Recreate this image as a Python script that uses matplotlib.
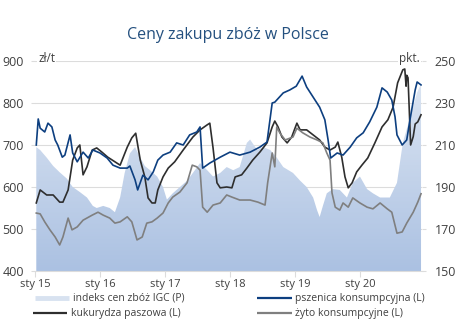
import numpy as np
import matplotlib
matplotlib.use("Agg")
import matplotlib.pyplot as plt
from matplotlib.lines import Line2D
from matplotlib.patches import Polygon

plt.rcParams['font.family'] = ['Open Sans', 'DejaVu Sans']

# pszenica konsumpcyjna, zl/t
wheat_t = [2015.02, 2015.05, 2015.08, 2015.15, 2015.20, 2015.26, 2015.31, 2015.35, 2015.42, 2015.46,
           2015.54, 2015.58, 2015.65, 2015.74, 2015.82, 2015.89, 2016.00, 2016.11, 2016.20, 2016.31,
           2016.42, 2016.46, 2016.54, 2016.58, 2016.66, 2016.74, 2016.82, 2016.89, 2016.97, 2017.08,
           2017.18, 2017.28, 2017.38, 2017.49, 2017.54, 2017.58, 2017.69, 2017.85, 2018.00, 2018.15,
           2018.31, 2018.46, 2018.57, 2018.65, 2018.69, 2018.82, 2018.92, 2019.02, 2019.11, 2019.18,
           2019.28, 2019.38, 2019.46, 2019.51, 2019.55, 2019.65, 2019.74, 2019.85, 2019.95, 2020.05,
           2020.15, 2020.26, 2020.34, 2020.42, 2020.49, 2020.54, 2020.57, 2020.65, 2020.72, 2020.77,
           2020.85, 2020.88, 2020.94]
wheat = [700, 762, 740, 731, 752, 743, 712, 700, 671, 676,
         724, 681, 660, 683, 669, 688, 681, 669, 652, 645,
         645, 650, 617, 593, 628, 617, 636, 664, 676, 683,
         705, 700, 724, 731, 743, 645, 657, 671, 683, 676,
         683, 695, 707, 800, 802, 824, 831, 840, 864, 838,
         814, 790, 760, 712, 669, 681, 676, 695, 717, 729,
         755, 790, 836, 826, 807, 767, 724, 700, 712, 760,
         831, 850, 843]

# kukurydza paszowa, zl/t
maize_t = [2015.02, 2015.08, 2015.18, 2015.28, 2015.38, 2015.43, 2015.51, 2015.58, 2015.65, 2015.69,
           2015.74, 2015.80, 2015.88, 2015.95, 2016.03, 2016.12, 2016.23, 2016.31, 2016.42, 2016.49,
           2016.55, 2016.62, 2016.69, 2016.74, 2016.80, 2016.85, 2016.89, 2016.97, 2017.05, 2017.15,
           2017.28, 2017.43, 2017.54, 2017.65, 2017.69, 2017.74, 2017.80, 2017.85, 2017.95, 2018.03,
           2018.08, 2018.18, 2018.26, 2018.35, 2018.46, 2018.57, 2018.65, 2018.69, 2018.74, 2018.80,
           2018.88, 2018.95, 2019.03, 2019.08, 2019.18, 2019.28, 2019.38, 2019.46, 2019.54, 2019.62,
           2019.66, 2019.72, 2019.77, 2019.82, 2019.88, 2019.95, 2020.03, 2020.12, 2020.23, 2020.34,
           2020.43, 2020.51, 2020.58, 2020.66, 2020.69, 2020.71, 2020.72, 2020.74, 2020.77, 2020.78,
           2020.82, 2020.85, 2020.89, 2020.94]
maize = [562, 593, 581, 581, 564, 564, 593, 664, 693, 700,
         629, 648, 688, 693, 683, 671, 660, 652, 695, 717,
         728, 664, 624, 574, 562, 562, 593, 624, 645, 660,
         688, 719, 736, 748, 752, 693, 610, 598, 600, 598,
         624, 629, 645, 664, 683, 705, 743, 757, 743, 719,
         705, 719, 752, 736, 736, 724, 712, 695, 688, 695,
         707, 671, 624, 598, 610, 636, 652, 669, 705, 743,
         760, 790, 848, 879, 881, 840, 866, 860, 740, 700,
         720, 750, 755, 772]

# zyto konsumpcyjne, zl/t
rye_t = [2015.02, 2015.08, 2015.15, 2015.23, 2015.31, 2015.38, 2015.43, 2015.51, 2015.57, 2015.65,
         2015.74, 2015.88, 2015.97, 2016.05, 2016.15, 2016.23, 2016.31, 2016.42, 2016.49, 2016.57,
         2016.65, 2016.72, 2016.80, 2016.88, 2016.97, 2017.05, 2017.12, 2017.23, 2017.34, 2017.42,
         2017.49, 2017.54, 2017.58, 2017.65, 2017.74, 2017.85, 2017.95, 2018.03, 2018.15, 2018.31,
         2018.43, 2018.54, 2018.58, 2018.65, 2018.69, 2018.72, 2018.77, 2018.85, 2018.97, 2019.03,
         2019.12, 2019.23, 2019.34, 2019.43, 2019.49, 2019.54, 2019.57, 2019.62, 2019.69, 2019.74,
         2019.82, 2019.89, 2020.00, 2020.11, 2020.20, 2020.31, 2020.42, 2020.49, 2020.57, 2020.65,
         2020.72, 2020.82, 2020.89, 2020.94]
rye = [538, 536, 517, 498, 481, 462, 481, 526, 498, 505,
       521, 533, 540, 533, 526, 514, 517, 529, 517, 474,
       481, 514, 517, 526, 538, 562, 576, 588, 610, 652,
       648, 640, 552, 540, 557, 562, 581, 576, 569, 569,
       564, 557, 610, 681, 648, 743, 728, 712, 719, 740,
       729, 719, 712, 705, 681, 664, 586, 552, 545, 562,
       552, 574, 562, 552, 548, 562, 548, 540, 490, 493,
       514, 540, 564, 584]

# indeks cen zboz IGC, pkt.
igc_t = [2015.02, 2015.08, 2015.18, 2015.28, 2015.38, 2015.49, 2015.58, 2015.69, 2015.80, 2015.89,
         2015.95, 2016.05, 2016.15, 2016.23, 2016.31, 2016.38, 2016.46, 2016.54, 2016.62, 2016.69,
         2016.77, 2016.88, 2016.97, 2017.03, 2017.12, 2017.23, 2017.34, 2017.43, 2017.54, 2017.65,
         2017.74, 2017.85, 2017.95, 2018.05, 2018.15, 2018.26, 2018.31, 2018.42, 2018.51, 2018.62,
         2018.72, 2018.82, 2018.97, 2019.08, 2019.18, 2019.28, 2019.34, 2019.38, 2019.43, 2019.49,
         2019.58, 2019.69, 2019.80, 2019.89, 2020.00, 2020.11, 2020.20, 2020.31, 2020.42, 2020.46,
         2020.57, 2020.66, 2020.77, 2020.88, 2020.94]
igc = [209, 207.6, 204, 200, 197, 194, 190, 187.6, 185, 181,
       180, 181, 180, 178, 185, 196.7, 206, 209, 204, 200,
       198, 195, 190, 184, 187, 190, 193, 196.7, 201.4, 198,
       195, 196.7, 199.5, 198, 199.5, 211, 212.6, 207.6, 209, 207.6,
       204, 199.5, 196.7, 193, 190, 185, 179, 175.7, 181, 187,
       189, 188.6, 185, 192, 195, 189, 187, 185, 185, 185,
       192, 211, 223, 235, 239]

years = [2015, 2016, 2017, 2018, 2019, 2020]
year_labels = ['sty 15', 'sty 16', 'sty 17', 'sty 18', 'sty 19', 'sty 20']
left_ticks = [400, 500, 600, 700, 800, 900]
right_ticks = [150, 170, 190, 210, 230, 250]

txt = '#404040'
grid_c = '#dcdcdc'

fig = plt.figure(figsize=(4.74, 3.32), dpi=100)
ax = fig.add_axes([0.0738, 0.1837, 0.8165, 0.6326])
ax2 = ax.twinx()
ax.set_zorder(ax2.get_zorder() + 1)
ax.patch.set_visible(False)

xmin, xmax = 2015.0, 2020.955
ax.set_xlim(xmin, xmax)
ax.set_ylim(400, 900)
ax2.set_ylim(150, 250)

# gridlines sit under the IGC area
for v in right_ticks[1:]:
    ax2.axhline(v, color=grid_c, lw=0.8, zorder=0)

# IGC area with a vertical gradient fill
grad = np.linspace(0, 1, 256).reshape(-1, 1)
cmap = matplotlib.colors.LinearSegmentedColormap.from_list(
    'igc', ['#e1e9f4', '#abc1e2'])
img = ax2.imshow(grad, cmap=cmap, aspect='auto', origin='upper',
                 extent=[xmin, xmax, 150, 250], zorder=1, vmin=0, vmax=1)
verts = [(igc_t[0], 150)] + list(zip(igc_t, igc)) + [(igc_t[-1], 150)]
clip = Polygon(verts, closed=True, transform=ax2.transData, facecolor='none', edgecolor='none')
ax2.add_patch(clip)
img.set_clip_path(clip)
ax2.set_xlim(xmin, xmax)

ax.plot(maize_t, maize, color='#2e2e2e', lw=1.2)
ax.plot(rye_t, rye, color='#7f7f7f', lw=1.2)
ax.plot(wheat_t, wheat, color='#0d3f80', lw=1.2)

for a in (ax, ax2):
    for s in a.spines.values():
        s.set_visible(False)
ax.spines['bottom'].set_visible(True)
ax.spines['bottom'].set_color(grid_c)

ax.set_xticks(years)
ax.set_xticklabels(year_labels)
ax.set_yticks(left_ticks)
ax2.set_yticks(right_ticks)
ax.tick_params(axis='x', colors=grid_c, labelcolor=txt, labelsize=8, length=4, pad=2)
ax.tick_params(axis='y', colors=grid_c, labelcolor=txt, labelsize=9, length=3, pad=5)
ax2.tick_params(axis='y', colors=grid_c, labelcolor=txt, labelsize=9, length=3, pad=6)

ax.text(0.008, 1.01, 'zł/t', transform=ax.transAxes, fontsize=8.5, color=txt,
        ha='left', va='center', bbox=dict(facecolor='white', edgecolor='none', pad=1))
ax.text(0.995, 1.01, 'pkt.', transform=ax.transAxes, fontsize=8.5, color=txt,
        ha='right', va='center', bbox=dict(facecolor='white', edgecolor='none', pad=1))

fig.text(0.481, 0.895, 'Ceny zakupu zbóż w Polsce', ha='center', va='center',
         fontsize=11.5, color='#24507f')

# legend drawn by hand in two rows
def legend_item(x0, y, color, lw, label):
    fig.add_artist(Line2D([x0, x0 + 0.072], [y, y], transform=fig.transFigure,
                          color=color, lw=lw, solid_capstyle='butt'))
    fig.text(x0 + 0.080, y, label, fontsize=7.5, color=txt, va='center', ha='left')

legend_item(0.074, 0.102, '#d8e2f0', 3.5, 'indeks cen zbóż IGC (P)')
legend_item(0.543, 0.102, '#0d3f80', 1.6, 'pszenica konsumpcyjna (L)')
legend_item(0.070, 0.057, '#2e2e2e', 1.6, 'kukurydza paszowa (L)')
legend_item(0.543, 0.057, '#7f7f7f', 1.6, 'żyto konsumpcyjne (L)')

fig.savefig('out.png', dpi=100)
